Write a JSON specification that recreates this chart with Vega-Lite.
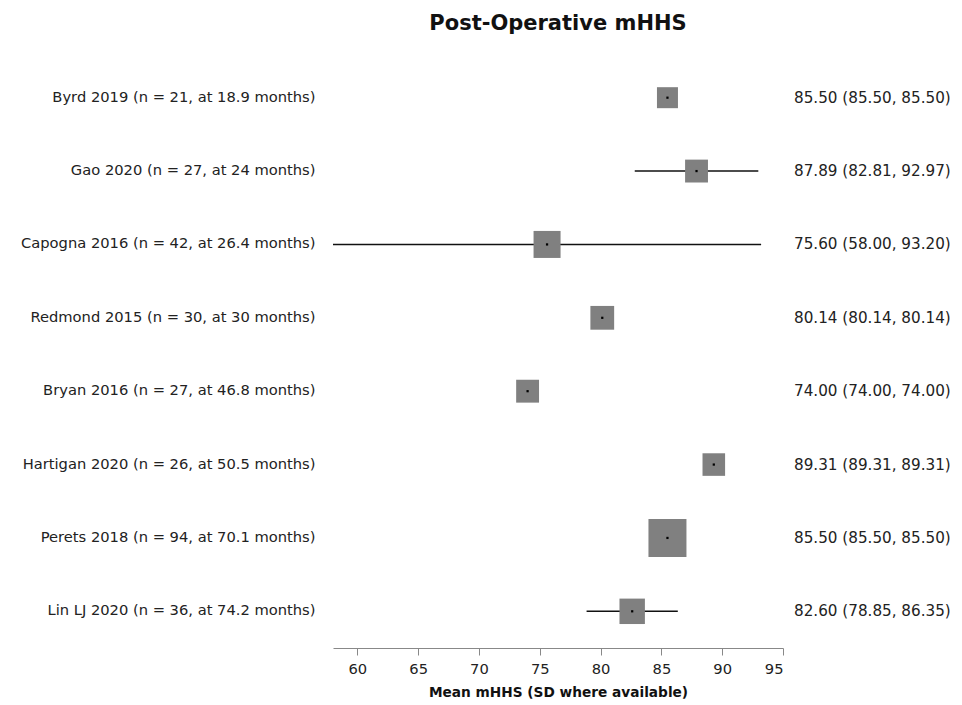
{
  "$schema": "https://vega.github.io/schema/vega-lite/v6.json",
  "autosize": {"type": "none"},
  "width": 450,
  "height": 587,
  "padding": {"left": 333, "top": 61, "right": 179, "bottom": 57},
  "background": "white",
  "config": {"view": {"stroke": null}, "font": "DejaVu Sans"},
  "title": {"text": "Post-Operative mHHS", "fontSize": 21, "fontWeight": "bold", "font": "DejaVu Sans", "color": "#111", "anchor": "middle", "offset": 27},
  "data": {"values": [
    {"study": "Byrd 2019 (n = 21, at 18.9 months)", "n": 21, "mean": 85.5, "lo": 85.5, "hi": 85.5, "label": "85.50 (85.50, 85.50)"},
    {"study": "Gao 2020 (n = 27, at 24 months)", "n": 27, "mean": 87.89, "lo": 82.81, "hi": 92.97, "label": "87.89 (82.81, 92.97)"},
    {"study": "Capogna 2016 (n = 42, at 26.4 months)", "n": 42, "mean": 75.6, "lo": 58.0, "hi": 93.2, "label": "75.60 (58.00, 93.20)"},
    {"study": "Redmond 2015 (n = 30, at 30 months)", "n": 30, "mean": 80.14, "lo": 80.14, "hi": 80.14, "label": "80.14 (80.14, 80.14)"},
    {"study": "Bryan 2016 (n = 27, at 46.8 months)", "n": 27, "mean": 74.0, "lo": 74.0, "hi": 74.0, "label": "74.00 (74.00, 74.00)"},
    {"study": "Hartigan 2020 (n = 26, at 50.5 months)", "n": 26, "mean": 89.31, "lo": 89.31, "hi": 89.31, "label": "89.31 (89.31, 89.31)"},
    {"study": "Perets 2018 (n = 94, at 70.1 months)", "n": 94, "mean": 85.5, "lo": 85.5, "hi": 85.5, "label": "85.50 (85.50, 85.50)"},
    {"study": "Lin LJ 2020 (n = 36, at 74.2 months)", "n": 36, "mean": 82.6, "lo": 78.85, "hi": 86.35, "label": "82.60 (78.85, 86.35)"}
  ]},
  "encoding": {
    "y": {"field": "study", "type": "nominal", "sort": null,
      "scale": {"type": "band", "paddingInner": 0, "paddingOuter": 0},
      "axis": {"title": null, "ticks": false, "domain": false, "labelFontSize": 14.7, "labelColor": "#222", "labelPadding": 18, "labelFont": "DejaVu Sans", "labelLimit": 400}}
  },
  "layer": [
    {
      "mark": {"type": "rule", "color": "#111", "strokeWidth": 1.6},
      "encoding": {
        "x": {"field": "lo", "type": "quantitative",
          "scale": {"domain": [58, 95], "nice": false, "zero": false},
          "axis": {"title": "Mean mHHS (SD where available)", "values": [60, 65, 70, 75, 80, 85, 90, 95], "grid": false,
            "tickSize": 7, "tickColor": "#888", "domainColor": "#888", "labelFontSize": 14.7, "labelColor": "#222", "labelPadding": 6,
            "titleFontSize": 13.7, "titleFontWeight": "bold", "titleColor": "#111", "titlePadding": 10, "labelFont": "DejaVu Sans", "titleFont": "DejaVu Sans"}},
        "x2": {"field": "hi"}
      }
    },
    {
      "mark": {"type": "point", "shape": "square", "filled": true, "color": "#808080", "opacity": 1},
      "encoding": {
        "x": {"field": "mean", "type": "quantitative"},
        "size": {"field": "n", "type": "quantitative", "scale": {"domain": [21, 94], "range": [441, 1444]}, "legend": null}
      }
    },
    {
      "mark": {"type": "point", "shape": "square", "filled": true, "color": "#000", "size": 5, "opacity": 1},
      "encoding": {
        "x": {"field": "mean", "type": "quantitative"}
      }
    },
    {
      "mark": {"type": "text", "align": "left", "dx": 11, "fontSize": 15.2, "color": "#222", "font": "DejaVu Sans"},
      "encoding": {
        "x": {"datum": 95},
        "text": {"field": "label"}
      }
    }
  ]
}
